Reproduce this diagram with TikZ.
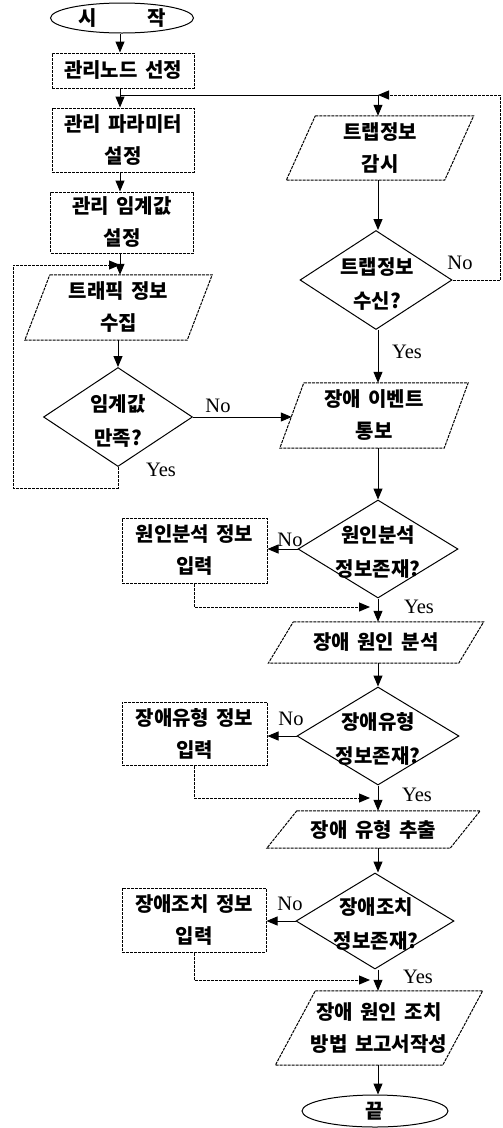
\documentclass[tikz,border=0pt]{standalone}
\usepackage{fontspec}
\setmainfont{Liberation Serif}
\newfontfamily\krfont[WordSpace=1.6]{Noto Sans CJK KR}
\usetikzlibrary{shapes.geometric,arrows.meta,calc}
\newcommand\mypara[7]{%
  \node[pnode, minimum width=#4pt, minimum height=#5pt] (#1) at (#2,-#3) {#7};
  \draw[dl] ([xshift=#6pt]#1.north west) -- ([xshift=#6pt]#1.north east) -- ([xshift=-#6pt]#1.south east) -- ([xshift=-#6pt]#1.south west) -- cycle;}
\begin{document}
\begin{tikzpicture}[x=1pt,y=1pt,
  every node/.style={inner sep=0pt},
  kr/.style={font=\krfont\bfseries\fontsize{20}{32}\selectfont, align=center},
  krd/.style={font=\krfont\bfseries\fontsize{20}{34}\selectfont, align=center},
  boxnode/.style={kr, draw, dash pattern=on 3pt off 1pt, line width=1pt, rectangle},
  dia/.style={draw, diamond, line width=1pt},
  term/.style={kr, draw, ellipse, line width=1pt},
  pnode/.style={kr},
  arr/.style={-{Triangle[length=11pt,width=9pt]}, line width=1pt},
  ln/.style={line width=1pt},
  dl/.style={line width=1pt, dash pattern=on 3pt off 1pt},
  lab/.style={font=\fontsize{20.5}{24}\selectfont},
]
\useasboundingbox (0,0) rectangle (503,-1128);
\coordinate (cL) at (120,0);
\coordinate (cR) at (378,0);

% left column
\node[term, minimum width=143pt, minimum height=30pt] (start) at (122,-18) {시\hspace{50pt}작};
\node[boxnode, minimum width=142pt, minimum height=35pt] (r1) at (123,-70.5) {관리노드 선정};
\node[boxnode, minimum width=142pt, minimum height=64pt] (r2) at (123,-140) {관리 파라미터\\설정};
\node[boxnode, minimum width=143pt, minimum height=61pt] (r3) at (122,-222.5) {관리 임계값\\설정};
\mypara{p1}{118.5}{307.5}{162}{65}{12.5}{트래픽 정보\\수집}
\node[dia, minimum width=149pt, minimum height=99pt] (d1) at (118,-417) {};
\node[krd] (d1t) at (118,-421) {임계값\\만족?};

% right column
\mypara{trap}{380}{148}{158}{64}{14.5}{트랩정보\\감시}
\node[dia, minimum width=152pt, minimum height=99pt] (dt) at (376,-280) {};
\node[krd] (dtt) at (377,-284) {트랩정보\\수신?};
\mypara{pE}{374}{415.5}{164}{65}{12}{장애 이벤트\\통보}
\node[dia, minimum width=160pt, minimum height=98pt] (d2) at (378,-549) {};
\node[krd] (d2t) at (378,-552) {원인분석\\정보존재?};
\node[boxnode, minimum width=145pt, minimum height=65pt] (b2) at (194.5,-550.5) {원인분석 정보\\입력};
\mypara{pA}{376}{642.5}{190}{41}{12.5}{장애 원인 분석}
\node[dia, minimum width=162pt, minimum height=98pt] (d3) at (378,-736) {};
\node[krd] (d3t) at (378,-739) {장애유형\\정보존재?};
\node[boxnode, minimum width=145pt, minimum height=63pt] (b3) at (194.5,-733.5) {장애유형 정보\\입력};
\mypara{pT}{373.5}{829.5}{183}{37}{15}{장애 유형 추출}
\node[dia, minimum width=158pt, minimum height=96pt] (d4) at (375,-921) {};
\node[krd] (d4t) at (376,-924) {장애조치\\정보존재?};
\node[boxnode, minimum width=144pt, minimum height=64pt] (b4) at (194,-920) {장애조치 정보\\입력};
\mypara{pR}{379}{1028}{167}{74}{20}{장애 원인 조치\\방법 보고서작성}
\node[term, minimum width=146pt, minimum height=32pt] (end) at (375,-1111) {끝};

% coordinates
\coordinate (j1) at (120,-95);
\coordinate (j2) at (378,-95);
\coordinate (rTop) at (500,-95);
\coordinate (loopB) at (13,-488);
\coordinate (loopT) at (13,-265);
\coordinate (m2) at (370,-607);
\coordinate (m3) at (370,-798);
\coordinate (m4) at (370,-980);

% connectors left
\draw[arr] (start.south -| cL) -- (r1.north -| cL);
\draw[arr] (r1.south -| cL) -- (r2.north -| cL);
\draw[ln] (j1) -- (j2);
\draw[arr] (j2) -- (trap.north -| cR);
\draw[arr] (r2.south -| cL) -- (r3.north -| cL);
\draw[arr] (r3.south -| cL) -- (p1.north -| cL);
\draw[arr] (p1.south -| d1) -- (d1.north);
\draw[arr,dl] (d1.south) |- (loopB) -- (loopT) -- (loopT -| cL);
\draw[arr] (d1.east) -- (d1.east -| pE.west);
\node[lab] (no1) at (218,-406) {No};
\node[lab] (yes1) at (161,-470) {Yes};

% connectors right
\draw[arr] (trap.south -| cR) -- (dt.north -| cR);
\draw[arr,dl] (dt.east) -| (rTop) -- (j2);
\node[lab] (no0) at (460,-263) {No};
\draw[arr] (dt.south -| cR) -- (pE.north -| cR);
\node[lab] (yes0) at (407,-352) {Yes};
\draw[arr] (pE.south -| cR) -- (d2.north -| cR);

\draw[arr] (d2.west) -- (d2.west -| b2.east);
\node[lab] (no2) at (290,-540) {No};
\draw[arr,dl] (b2.south) |- (m2);
\draw[arr] (d2.south -| cR) -- (pA.north -| cR);
\node[lab] (yes2) at (419,-607) {Yes};
\draw[arr] (pA.south -| cR) -- (d3.north -| cR);

\draw[arr] (d3.west) -- (d3.west -| b3.east);
\node[lab] (no3) at (291,-719) {No};
\draw[arr,dl] (b3.south) |- (m3);
\draw[arr] (d3.south -| cR) -- (pT.north -| cR);
\node[lab] (yes3) at (417,-795) {Yes};
\draw[arr] (pT.south -| cR) -- (d4.north -| cR);

\draw[arr] (d4.west) -- (d4.west -| b4.east);
\node[lab] (no4) at (290,-904) {No};
\draw[arr,dl] (b4.south) |- (m4);
\draw[arr] (d4.south -| cR) -- (pR.north -| cR);
\node[lab] (yes4) at (418,-977) {Yes};
\draw[arr] (pR.south -| cR) -- (end.north -| cR);
\end{tikzpicture}
\end{document}
